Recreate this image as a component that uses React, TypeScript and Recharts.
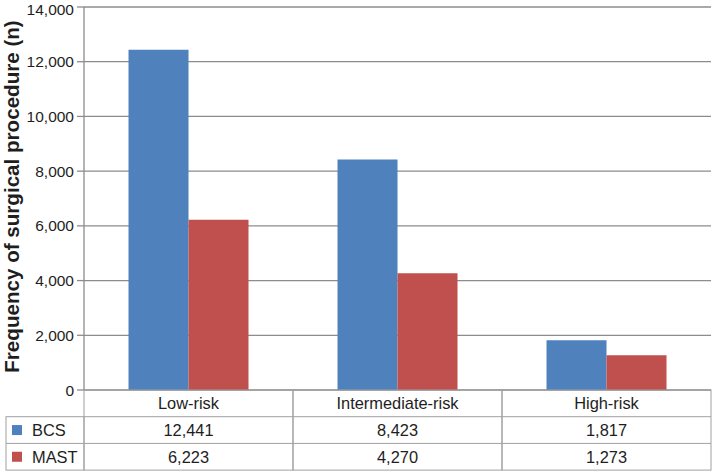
import { BarChart, Bar, XAxis, YAxis, CartesianGrid } from 'recharts';

const categories = ['Low-risk', 'Intermediate-risk', 'High-risk'];
const bcsValues = [12441, 8423, 1817];
const mastValues = [6223, 4270, 1273];
const yTicks = [0, 2000, 4000, 6000, 8000, 10000, 12000, 14000];
const seriesNames = ['BCS', 'MAST'];

const BLUE = '#4F81BD';
const RED = '#C0504D';
const GRID = '#8c8c8c';
const BORDER = '#a0a0a0';
const TEXT = '#1e1e1e';
const FONT = '"Liberation Sans", Arial, sans-serif';

const WIDTH = 713;
const HEIGHT = 472;
const MARGIN = { top: 7, right: 2, bottom: 2, left: 0 };
const Y_AXIS_W = 84;
const X_AXIS_H = 80;
const PLOT_W = WIDTH - MARGIN.left - MARGIN.right - Y_AXIS_W;
const ROW_H = 26.7;
const LEGEND_LEFT = 6;
const TABLE_FONT = 16.4;

const chartData = categories.map((name, i) => ({
  name,
  bcs: bcsValues[i],
  mast: mastValues[i],
}));

const fmt = (v: number) => v.toLocaleString('en-US');

type TickProps = {
  x?: number;
  y?: number;
  index?: number;
  payload?: { value: string; index?: number };
};

const TableTick = ({ x = 0, y = 0, index = 0, payload }: TickProps) => {
  const bandW = PLOT_W / categories.length;
  const left = x - bandW / 2;
  const rows = [payload?.value ?? '', fmt(bcsValues[index]), fmt(mastValues[index])];
  const colors = [BLUE, RED];
  return (
    <g>
      <rect x={left} y={y} width={bandW} height={ROW_H * 3} fill="none" stroke={BORDER} strokeWidth={1} />
      <line x1={left} x2={left + bandW} y1={y + ROW_H} y2={y + ROW_H} stroke={BORDER} />
      <line x1={left} x2={left + bandW} y1={y + ROW_H * 2} y2={y + ROW_H * 2} stroke={BORDER} />
      {rows.map((r, i) => (
        <text
          key={i}
          x={x}
          y={y + ROW_H * i + ROW_H / 2}
          textAnchor="middle"
          dominantBaseline="central"
          fontSize={TABLE_FONT}
          fontFamily={FONT}
          fill={TEXT}
        >
          {r}
        </text>
      ))}
      {index === 0 ? (
        <g>
          <rect
            x={LEGEND_LEFT}
            y={y + ROW_H}
            width={left - LEGEND_LEFT}
            height={ROW_H * 2}
            fill="none"
            stroke={BORDER}
          />
          <line x1={LEGEND_LEFT} x2={left} y1={y + ROW_H * 2} y2={y + ROW_H * 2} stroke={BORDER} />
          {seriesNames.map((s, i) => (
            <g key={s}>
              <rect x={12} y={y + ROW_H * (i + 1) + ROW_H / 2 - 5} width={10} height={10} fill={colors[i]} />
              <text
                x={32}
                y={y + ROW_H * (i + 1) + ROW_H / 2}
                dominantBaseline="central"
                fontSize={TABLE_FONT}
                fontFamily={FONT}
                fill={TEXT}
              >
                {s}
              </text>
            </g>
          ))}
        </g>
      ) : null}
    </g>
  );
};

type LabelProps = { viewBox?: { x: number; y: number; width: number; height: number } };

const YLabel = ({ viewBox }: LabelProps) => {
  if (!viewBox) return null;
  const cx = 18.5;
  const cy = viewBox.y + viewBox.height / 2 - 2;
  return (
    <text
      x={cx}
      y={cy}
      transform={`rotate(-90, ${cx}, ${cy})`}
      textAnchor="middle"
      fontSize={20.6}
      fontWeight="bold"
      fontFamily={FONT}
      fill={TEXT}
    >
      Frequency of surgical procedure (n)
    </text>
  );
};

export default function App() {
  return (
    <div style={{ position: 'absolute', left: 0, top: 0, width: WIDTH, height: HEIGHT, background: '#fff' }}>
      <BarChart
        width={WIDTH}
        height={HEIGHT}
        data={chartData}
        margin={MARGIN}
        barCategoryGap="21.3%"
        barGap={0}
      >
        <CartesianGrid vertical={false} stroke={GRID} strokeWidth={1.3} />
        <XAxis
          dataKey="name"
          height={X_AXIS_H}
          axisLine={false}
          tickLine={false}
          tickSize={0}
          tickMargin={0}
          interval={0}
          tick={(props: TickProps) => <TableTick {...props} />}
        />
        <YAxis
          width={Y_AXIS_W}
          domain={[0, 14000]}
          ticks={yTicks}
          tickFormatter={fmt}
          tickSize={7}
          tickMargin={3}
          axisLine={{ stroke: GRID, strokeWidth: 1.3 }}
          tickLine={{ stroke: GRID, strokeWidth: 1.3 }}
          tick={{ fontSize: 15.5, fill: TEXT, fontFamily: FONT }}
          label={(props: LabelProps) => <YLabel {...props} />}
        />
        <Bar dataKey="bcs" name="BCS" fill={BLUE} isAnimationActive={false} />
        <Bar dataKey="mast" name="MAST" fill={RED} isAnimationActive={false} />
      </BarChart>
    </div>
  );
}
